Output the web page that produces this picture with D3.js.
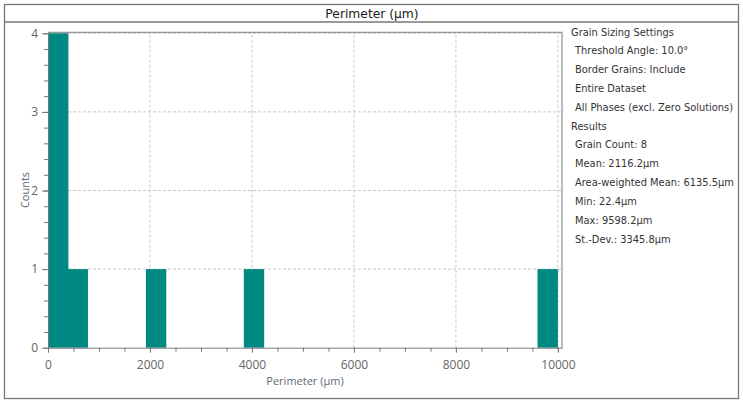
<!DOCTYPE html>
<html>
<head>
<meta charset="utf-8">
<script src="https://cdn.jsdelivr.net/npm/d3@7"></script>
<style>
	body { margin: 0; background: #fff; }
	.axis text { font-family: "Open Sans", sans-serif; font-size: 12px; fill: #666; }
	.axis path, .axis line { stroke: #777; }
	.axisLabel { font-family: "Open Sans", sans-serif; font-size: 11px; fill: #5d6b78; }
	.info { font-family: "DejaVu Sans", sans-serif; font-size: 9.9px; fill: #333; }
</style>
</head>
<body>
<svg class="chart"></svg>
<script>
	// histogram bins (lower edge, µm) and their counts
	var binStarts = [0, 384, 1920, 3840, 9600];
	var binWidth = 384;
	var counts = [4, 1, 1, 1, 1];

	var xTicks = [0, 2000, 4000, 6000, 8000, 10000];
	var yTicks = [0, 1, 2, 3, 4];

	var settingsLines = ["Threshold Angle: 10.0°", "Border Grains: Include", "Entire Dataset", "All Phases (excl. Zero Solutions)"];
	var resultsLines = ["Grain Count: 8", "Mean: 2116.2µm", "Area-weighted Mean: 6135.5µm", "Min: 22.4µm", "Max: 9598.2µm", "St.-Dev.: 3345.8µm"];

	var chartWidth = 743;
	var chartHeight = 404;
	var svg = d3.select('.chart').attr("width", chartWidth).attr("height", chartHeight);

	// outer frame + title bar
	svg.append("rect").attr("x", 4.5).attr("y", 4.5).attr("width", 734).attr("height", 394)
		.attr("fill", "none").attr("stroke", "#777").attr("stroke-width", 1.3);
	svg.append("line").attr("x1", 4).attr("x2", 739).attr("y1", 22).attr("y2", 22)
		.attr("stroke", "#777").attr("stroke-width", 1.6);
	svg.append("text").attr("x", 372).attr("y", 18)
		.attr("text-anchor", "middle")
		.style("font-family", "'DejaVu Sans', sans-serif").style("font-size", "12.3px").style("fill", "#222")
		.text("Perimeter (µm)");

	var x = d3.scaleLinear().domain([0, 10080]).range([48, 562]);
	var y = d3.scaleLinear().domain([0, 4]).range([347.7, 33.3]);

	var plot = svg.append("g");

	// grid
	plot.selectAll(".gx").data(xTicks.slice(1)).enter().append("line")
		.attr("x1", function(d) { return x(d); }).attr("x2", function(d) { return x(d); })
		.attr("y1", y(0)).attr("y2", 32)
		.attr("stroke", "#c8c8c8").attr("stroke-dasharray", "3,2");
	plot.selectAll(".gy").data(yTicks.slice(1)).enter().append("line")
		.attr("x1", x(0)).attr("x2", 562)
		.attr("y1", function(d) { return y(d); }).attr("y2", function(d) { return y(d); })
		.attr("stroke", "#c8c8c8").attr("stroke-dasharray", "3,2");

	// bars
	plot.selectAll(".bar").data(binStarts).enter().append("rect")
		.attr("x", function(d) { return x(d); })
		.attr("width", function(d) { return x(d + binWidth) - x(d) + 0.8; })
		.attr("y", function(d, i) { return y(counts[i]); })
		.attr("height", function(d, i) { return y(0) - y(counts[i]); })
		.attr("fill", "#008983");

	// frame top/right
	plot.append("path").attr("d", "M48,32.3H562V348")
		.attr("fill", "none").attr("stroke", "#999").attr("stroke-width", 1.3);

	// minor ticks
	svg.append("g").attr("class", "axis").attr("transform", "translate(48,0)")
		.call(d3.axisLeft(y).tickValues(d3.range(0, 4.01, 0.2)).tickSize(4).tickFormat(""))
		.select(".domain").remove();
	svg.append("g").attr("class", "axis").attr("transform", "translate(0," + y(0) + ")")
		.call(d3.axisBottom(x).tickValues(d3.range(0, 10001, 500)).tickSize(4).tickFormat(""))
		.select(".domain").remove();

	// major axes
	svg.append("g").attr("class", "axis").attr("transform", "translate(48,0)")
		.call(d3.axisLeft(y).tickValues(yTicks).tickSize(6).tickPadding(4).tickSizeOuter(0).tickFormat(d3.format("d")));
	svg.append("g").attr("class", "axis").attr("transform", "translate(0," + y(0) + ")")
		.call(d3.axisBottom(x).tickValues(xTicks).tickSize(5).tickPadding(8).tickSizeOuter(0).tickFormat(d3.format("d")));

	svg.append("text").attr("class", "axisLabel")
		.attr("x", 305).attr("y", 385).attr("text-anchor", "middle")
		.text("Perimeter (µm)");
	svg.append("text").attr("class", "axisLabel")
		.attr("transform", "translate(29,190) rotate(-90)").attr("text-anchor", "middle")
		.text("Counts");

	// info panel
	var rowY = d3.scaleLinear().domain([0, 11]).range([35.5, 242.5]);
	var rows = [{t: "Grain Sizing Settings", dx: 0}]
		.concat(settingsLines.map(function(t) { return {t: t, dx: 4}; }))
		.concat([{t: "Results", dx: 0}])
		.concat(resultsLines.map(function(t) { return {t: t, dx: 4}; }));
	svg.selectAll(".info").data(rows).enter().append("text").attr("class", "info")
		.attr("x", function(d) { return 571 + d.dx; })
		.attr("y", function(d, i) { return rowY(i); })
		.text(function(d) { return d.t; });
</script>
</body>
</html>
